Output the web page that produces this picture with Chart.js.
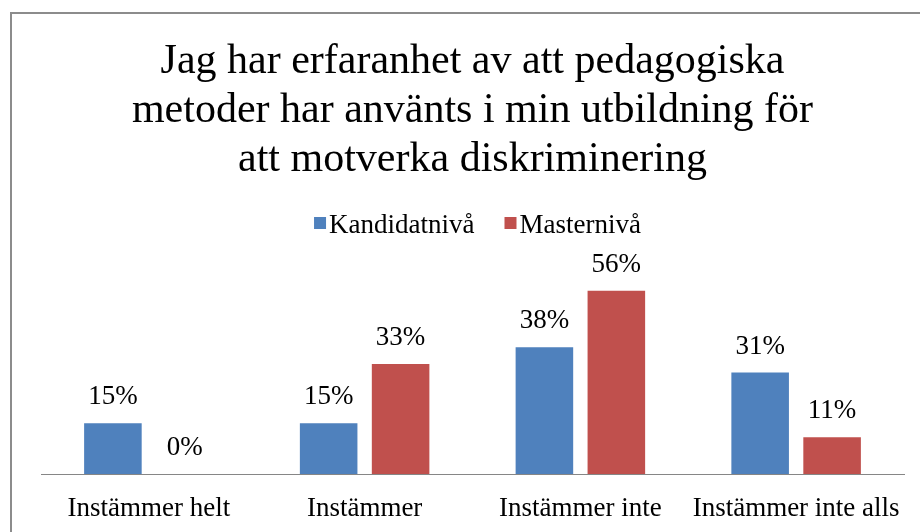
<!DOCTYPE html>
<html>
<head>
<meta charset="utf-8">
<script src="https://cdn.jsdelivr.net/npm/chart.js@4"></script>
<style>
  html, body { margin: 0; padding: 0; background: #fff; overflow: hidden; width: 920px; height: 532px; }
  #frame { position: absolute; left: 10px; top: 12px; width: 1000px; height: 600px;
           border-left: 2px solid #8c8c8c; border-top: 2px solid #8c8c8c; box-sizing: border-box; }
  #wrap { position: absolute; left: 0; top: 0; width: 944px; height: 532px; }
</style>
</head>
<body>
<div id="frame"></div>
<div id="wrap"><canvas id="c" width="944" height="532"></canvas></div>
<script>
const categories = ["Instämmer helt", "Instämmer", "Instämmer inte", "Instämmer inte alls"];
const seriesNames = ["Kandidatnivå", "Masternivå"];
const kandidatniva = [15.38, 15.38, 38.46, 30.77];
const masterniva = [0, 33.33, 55.56, 11.11];
const titleLines = ["Jag har erfaranhet av att pedagogiska", "metoder har använts i min utbildning för", "att motverka diskriminering"];
const colors = ["#4F81BD", "#C0504D"];

const SERIF = "'Liberation Serif', 'Times New Roman', serif";

const valueLabels = {
  id: 'valueLabels',
  afterDatasetsDraw(chart) {
    const ctx = chart.ctx;
    ctx.save();
    ctx.font = "27px " + SERIF;
    ctx.fillStyle = "#000";
    ctx.textAlign = "center";
    ctx.textBaseline = "alphabetic";
    chart.data.datasets.forEach((ds, di) => {
      const meta = chart.getDatasetMeta(di);
      meta.data.forEach((el, i) => {
        ctx.fillText(Math.round(ds.data[i]) + "%", el.x, el.y - 19);
      });
    });
    ctx.restore();
  }
};

const customLegend = {
  id: 'customLegend',
  afterDraw(chart) {
    const ctx = chart.ctx;
    ctx.save();
    ctx.font = "27px " + SERIF;
    ctx.textBaseline = "alphabetic";
    ctx.textAlign = "left";
    const box = 12, gapBoxText = 3, gapItems = 30;
    const items = chart.data.datasets.map(d => ({ label: d.label, color: d.backgroundColor, w: ctx.measureText(d.label).width }));
    let total = 0;
    items.forEach((it, i) => { total += box + gapBoxText + it.w + (i < items.length - 1 ? gapItems : 0); });
    let x = chart.width / 2 + 5.5 - total / 2;
    const cy = 223;
    items.forEach(it => {
      ctx.fillStyle = it.color;
      ctx.fillRect(x, cy - box / 2, box, box);
      x += box + gapBoxText;
      ctx.fillStyle = "#000";
      ctx.fillText(it.label, x, cy + 10);
      x += it.w + gapItems;
    });
    ctx.restore();
  }
};

new Chart(document.getElementById('c'), {
  type: 'bar',
  data: {
    labels: categories,
    datasets: [
      { label: seriesNames[0], data: kandidatniva, backgroundColor: colors[0], categoryPercentage: 0.667, barPercentage: 0.8 },
      { label: seriesNames[1], data: masterniva, backgroundColor: colors[1], categoryPercentage: 0.667, barPercentage: 0.8 }
    ]
  },
  options: {
    responsive: false,
    animation: false,
    layout: { padding: { left: 41, right: 40, top: 0, bottom: 0 } },
    plugins: {
      legend: { display: false },
      tooltip: { enabled: false },
      title: {
        display: true,
        text: titleLines,
        color: "#000",
        font: { family: SERIF, size: 42, weight: 'normal', lineHeight: 1.16 },
        padding: { top: 38, bottom: 92 }
      }
    },
    scales: {
      x: {
        grid: { display: true, drawOnChartArea: false, drawTicks: false, color: 'transparent' },
        border: { display: true, color: '#868686', width: 1 },
        ticks: { color: "#000", font: { family: SERIF, size: 27 }, padding: 19, maxRotation: 0, autoSkip: false },
        afterFit(scale) { scale.height = 58; }
      },
      y: {
        display: false,
        min: 0,
        max: 60
      }
    }
  },
  plugins: [valueLabels, customLegend]
});
</script>
</body>
</html>
